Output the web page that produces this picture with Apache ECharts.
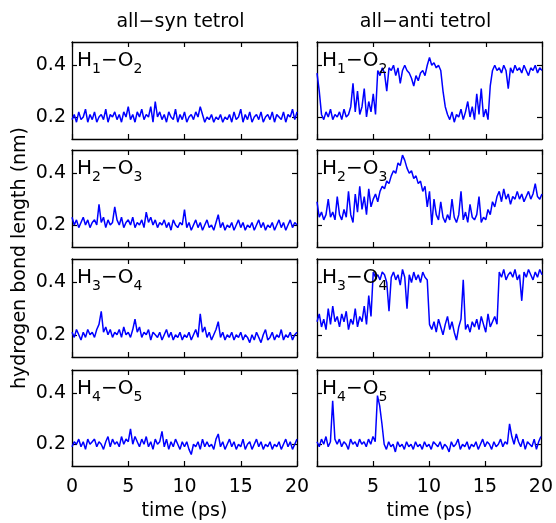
<!DOCTYPE html>
<html>
<head>
<meta charset="utf-8">
<script src="https://cdn.jsdelivr.net/npm/echarts@6/dist/echarts.min.js"></script>
<style>html,body{margin:0;padding:0;background:#fff;}#c{width:556px;height:523px;}</style>
</head>
<body>
<div id="c"></div>
<script>
// Column titles, panel labels, tick labels
const columnTitles = ['all\u2212syn tetrol', 'all\u2212anti tetrol'];
const panelLabels = [['1','2'],['2','3'],['3','4'],['4','5']];
const xTicks = [0, 5, 10, 15, 20];
const yTicks = [0.2, 0.4];

// sampling grid (ps)
const time = Array.from({length: 101}, (_, i) => +(i * 0.2).toFixed(1));

// all-syn tetrol
const synH1O2 = [0.19,0.21,0.18,0.22,0.19,0.20,0.23,0.18,0.21,0.19,
0.22,0.18,0.20,0.21,0.19,0.23,0.18,0.21,0.20,0.22,
0.19,0.21,0.18,0.22,0.20,0.24,0.19,0.21,0.18,0.22,
0.20,0.23,0.19,0.21,0.20,0.24,0.18,0.26,0.20,0.22,
0.19,0.21,0.18,0.22,0.20,0.19,0.23,0.18,0.21,0.19,
0.22,0.18,0.20,0.21,0.19,0.22,0.20,0.24,0.21,0.18,
0.20,0.19,0.21,0.18,0.20,0.19,0.21,0.18,0.20,0.19,
0.21,0.18,0.22,0.19,0.20,0.23,0.18,0.21,0.19,0.22,
0.18,0.20,0.21,0.19,0.22,0.18,0.20,0.21,0.19,0.22,
0.18,0.21,0.20,0.19,0.22,0.18,0.21,0.20,0.23,0.19,0.22];
const synH2O3 = [0.23,0.20,0.22,0.19,0.21,0.23,0.20,0.22,0.19,0.21,
0.22,0.20,0.28,0.21,0.23,0.19,0.22,0.20,0.21,0.27,
0.22,0.20,0.23,0.19,0.21,0.22,0.20,0.23,0.19,0.21,
0.20,0.22,0.19,0.25,0.21,0.23,0.20,0.22,0.19,0.21,
0.20,0.22,0.19,0.21,0.18,0.22,0.20,0.19,0.21,0.20,
0.26,0.19,0.21,0.18,0.20,0.22,0.19,0.21,0.18,0.20,
0.22,0.19,0.20,0.18,0.21,0.24,0.19,0.21,0.18,0.20,
0.19,0.21,0.18,0.20,0.22,0.19,0.21,0.18,0.20,0.19,
0.21,0.18,0.20,0.22,0.19,0.21,0.18,0.20,0.19,0.21,
0.18,0.20,0.22,0.19,0.21,0.18,0.20,0.22,0.19,0.21,0.20];
const synH3O4 = [0.21,0.19,0.22,0.20,0.18,0.21,0.19,0.22,0.20,0.21,
0.19,0.22,0.24,0.29,0.21,0.23,0.20,0.22,0.19,0.21,
0.20,0.22,0.19,0.23,0.20,0.21,0.19,0.22,0.26,0.21,
0.23,0.19,0.21,0.20,0.22,0.18,0.21,0.20,0.19,0.21,
0.18,0.20,0.22,0.19,0.21,0.18,0.20,0.19,0.21,0.18,
0.20,0.19,0.21,0.18,0.20,0.22,0.19,0.28,0.21,0.23,
0.19,0.21,0.18,0.20,0.22,0.25,0.19,0.21,0.18,0.20,
0.19,0.21,0.18,0.20,0.19,0.21,0.18,0.20,0.19,0.17,
0.20,0.18,0.21,0.19,0.17,0.20,0.22,0.18,0.19,0.21,
0.18,0.20,0.19,0.22,0.18,0.20,0.19,0.21,0.18,0.20,0.21];
const synH4O5 = [0.19,0.21,0.20,0.22,0.19,0.21,0.18,0.22,0.20,0.21,
0.22,0.19,0.21,0.20,0.18,0.21,0.23,0.19,0.22,0.20,
0.21,0.19,0.23,0.20,0.22,0.21,0.26,0.20,0.23,0.21,
0.19,0.22,0.20,0.23,0.19,0.21,0.18,0.22,0.20,0.21,
0.25,0.19,0.22,0.18,0.21,0.19,0.22,0.20,0.18,0.21,
0.19,0.21,0.18,0.16,0.20,0.19,0.21,0.18,0.22,0.19,
0.21,0.19,0.20,0.18,0.22,0.24,0.19,0.21,0.18,0.20,
0.22,0.19,0.21,0.18,0.20,0.19,0.22,0.18,0.20,0.21,
0.18,0.20,0.22,0.19,0.21,0.18,0.20,0.19,0.21,0.18,
0.20,0.19,0.21,0.18,0.20,0.22,0.19,0.21,0.18,0.20,0.22];

// all-anti tetrol
const antiH1O2 = [0.37,0.30,0.21,0.19,0.22,0.20,0.23,0.19,0.21,0.20,
0.22,0.19,0.23,0.20,0.21,0.24,0.33,0.22,0.30,0.21,
0.24,0.31,0.20,0.26,0.22,0.29,0.21,0.38,0.36,0.39,
0.37,0.30,0.39,0.38,0.40,0.36,0.39,0.33,0.38,0.40,
0.38,0.37,0.35,0.32,0.36,0.34,0.37,0.38,0.36,0.40,
0.43,0.40,0.41,0.39,0.40,0.38,0.30,0.24,0.21,0.19,
0.22,0.18,0.21,0.20,0.23,0.19,0.22,0.26,0.20,0.24,
0.19,0.29,0.21,0.31,0.20,0.23,0.19,0.32,0.38,0.40,
0.38,0.39,0.37,0.40,0.38,0.31,0.39,0.37,0.40,0.38,
0.39,0.37,0.40,0.38,0.36,0.39,0.38,0.40,0.37,0.39,0.38];
const antiH2O3 = [0.29,0.23,0.25,0.22,0.24,0.30,0.23,0.25,0.22,0.31,
0.24,0.22,0.26,0.23,0.33,0.24,0.21,0.32,0.25,0.35,
0.26,0.31,0.24,0.34,0.27,0.30,0.32,0.29,0.33,0.35,
0.34,0.37,0.36,0.39,0.41,0.40,0.44,0.43,0.47,0.45,
0.42,0.40,0.41,0.38,0.39,0.36,0.37,0.33,0.35,0.27,
0.33,0.20,0.30,0.24,0.22,0.29,0.23,0.21,0.24,0.22,
0.30,0.23,0.21,0.24,0.33,0.22,0.25,0.21,0.28,0.23,
0.22,0.24,0.31,0.21,0.23,0.22,0.26,0.24,0.29,0.27,
0.31,0.33,0.29,0.34,0.30,0.32,0.28,0.31,0.30,0.33,
0.30,0.32,0.29,0.31,0.33,0.30,0.32,0.36,0.31,0.30,0.32];
const antiH3O4 = [0.25,0.28,0.23,0.26,0.22,0.30,0.24,0.31,0.25,0.27,
0.23,0.28,0.25,0.29,0.22,0.26,0.24,0.30,0.23,0.27,
0.25,0.31,0.24,0.35,0.27,0.44,0.42,0.43,0.41,0.44,
0.43,0.40,0.29,0.42,0.44,0.41,0.43,0.39,0.45,0.42,
0.30,0.43,0.40,0.44,0.41,0.43,0.40,0.44,0.42,0.41,
0.24,0.22,0.25,0.21,0.26,0.23,0.20,0.24,0.27,0.22,
0.25,0.21,0.18,0.23,0.26,0.41,0.22,0.24,0.21,0.25,
0.23,0.26,0.22,0.27,0.24,0.21,0.28,0.23,0.25,0.27,
0.24,0.44,0.42,0.45,0.41,0.43,0.44,0.42,0.45,0.41,
0.43,0.33,0.44,0.42,0.45,0.43,0.41,0.44,0.42,0.45,0.43];
const antiH4O5 = [0.21,0.19,0.22,0.20,0.23,0.19,0.21,0.37,0.22,0.20,
0.22,0.19,0.21,0.20,0.18,0.22,0.20,0.21,0.19,0.22,
0.20,0.21,0.19,0.22,0.20,0.23,0.21,0.39,0.35,0.28,
0.20,0.18,0.21,0.19,0.20,0.17,0.21,0.19,0.20,0.18,
0.21,0.19,0.20,0.18,0.21,0.19,0.20,0.18,0.21,0.19,
0.20,0.18,0.21,0.20,0.19,0.21,0.18,0.20,0.19,0.17,
0.21,0.19,0.20,0.22,0.18,0.20,0.19,0.21,0.18,0.20,
0.19,0.21,0.18,0.20,0.22,0.19,0.21,0.20,0.18,0.21,
0.19,0.20,0.22,0.19,0.21,0.20,0.28,0.23,0.20,0.24,
0.21,0.19,0.22,0.18,0.21,0.20,0.19,0.22,0.18,0.21,0.23];

const columns = [[synH1O2, synH2O3, synH3O4, synH4O5], [antiH1O2, antiH2O3, antiH3O4, antiH4O5]];

// layout
const FONT = 'DejaVu Sans';
const colLeft = [72, 317];
const colWidth = 225;
const rowTop = [42, 150, 259, 370];
const rowHeight = [97, 97, 98, 96];
const Y_MIN = 0.115, Y_MAX = 0.49;

const chart = echarts.init(document.getElementById('c'), null, {renderer: 'canvas'});

const grid = [], xAxis = [], yAxis = [], series = [], graphic = [];
const measure = document.createElement('canvas').getContext('2d');
function tw(text, size) { measure.font = size + 'px "' + FONT + '"'; return measure.measureText(text).width; }

const tickStyle = {inside: true, length: 5, lineStyle: {color: '#000', width: 1.2}};
const lineStyle = {onZero: false, lineStyle: {color: '#000', width: 1.3}};
let gi = 0;
for (let c = 0; c < 2; c++) {
  for (let r = 0; r < 4; r++) {
    grid.push({left: colLeft[c], top: rowTop[r], width: colWidth, height: rowHeight[r], containLabel: false});
    const bottomRow = r === 3;
    xAxis.push({type: 'value', gridIndex: gi, min: xTicks[0], max: xTicks[xTicks.length - 1], interval: 5,
      position: 'bottom', axisLine: lineStyle, axisTick: tickStyle, splitLine: {show: false},
      axisLabel: {show: bottomRow, color: '#000', fontSize: 19, fontFamily: FONT, margin: 12,
        formatter: v => (c === 1 && v === 0) ? '' : String(v)}});
    xAxis.push({type: 'value', gridIndex: gi, min: xTicks[0], max: xTicks[xTicks.length - 1], interval: 5,
      position: 'top', axisLine: lineStyle, axisTick: tickStyle, splitLine: {show: false}, axisLabel: {show: false}});
    yAxis.push({type: 'value', gridIndex: gi, min: Y_MIN, max: Y_MAX, position: 'left',
      axisLine: lineStyle, axisTick: Object.assign({customValues: yTicks}, tickStyle), splitLine: {show: false},
      axisLabel: {show: c === 0, customValues: yTicks, color: '#000', fontSize: 19, fontFamily: FONT, margin: 6,
        formatter: v => v.toFixed(1)}});
    yAxis.push({type: 'value', gridIndex: gi, min: Y_MIN, max: Y_MAX, position: 'right',
      axisLine: lineStyle, axisTick: Object.assign({customValues: yTicks}, tickStyle), splitLine: {show: false},
      axisLabel: {show: false}});
    const vals = columns[c][r];
    series.push({type: 'line', xAxisIndex: 2 * gi, yAxisIndex: 2 * gi, showSymbol: false, symbol: 'none',
      clip: true, animation: false, lineStyle: {color: '#0000ff', width: 1.5},
      data: time.map((t, i) => [t, vals[i]])});

    // panel label H_a - O_b
    const sub = panelLabels[r];
    const big = 20, small = 14;
    let x = colLeft[c] + 5;
    const yc = rowTop[r] + 19;
    const parts = [['H', big, 0], [sub[0], small, 8], ['\u2212O', big, 0], [sub[1], small, 8]];
    parts.forEach(p => {
      graphic.push({type: 'text', z: 100, x: x, y: yc + p[2],
        style: {text: p[0], fontSize: p[1], fontFamily: FONT, fill: '#000', align: 'left', verticalAlign: 'middle'}});
      x += tw(p[0], p[1]);
    });
    gi++;
  }
}

// column titles and axis titles
columnTitles.forEach((t, c) => {
  graphic.push({type: 'text', x: colLeft[c] + colWidth / 2 - 4, y: 22,
    style: {text: t, fontSize: 19, fontFamily: FONT, fill: '#000', align: 'center', verticalAlign: 'middle'}});
  graphic.push({type: 'text', x: colLeft[c] + colWidth / 2, y: 511,
    style: {text: 'time (ps)', fontSize: 19, fontFamily: FONT, fill: '#000', align: 'center', verticalAlign: 'middle'}});
});
graphic.push({type: 'text', x: 20, y: 258, rotation: Math.PI / 2,
  style: {text: 'hydrogen bond length (nm)', fontSize: 19, fontFamily: FONT, fill: '#000', align: 'center', verticalAlign: 'middle'}});

chart.setOption({animation: false, backgroundColor: '#fff', grid, xAxis, yAxis, series, graphic});
</script>
</body>
</html>
